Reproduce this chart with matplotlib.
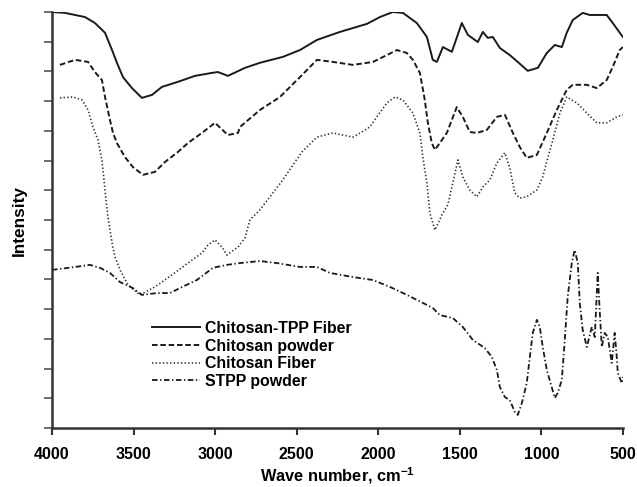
import matplotlib
matplotlib.use("Agg")
import matplotlib.pyplot as plt

# ---------------- data ----------------
tpp_fiber_wn = [4000, 3920, 3798, 3737, 3675, 3632, 3602, 3565, 3510, 3449, 3387, 3326, 3228, 3124,
                3020, 2983, 2922, 2817, 2726, 2585, 2480, 2376, 2235, 2070, 1990, 1911, 1849, 1764,
                1702, 1666, 1641, 1604, 1549, 1488, 1451, 1390, 1359, 1329, 1298, 1255, 1194, 1145,
                1084, 1022, 967, 918, 875, 845, 808, 747, 704, 600, 563, 501]
tpp_fiber_y = [14.00, 13.97, 13.83, 13.63, 13.30, 12.72, 12.29, 11.81, 11.44, 11.11, 11.21, 11.48,
               11.65, 11.85, 11.95, 11.98, 11.85, 12.12, 12.29, 12.49, 12.72, 13.06, 13.33, 13.60,
               13.83, 14.00, 13.97, 13.63, 13.16, 12.39, 12.32, 12.82, 12.66, 13.63, 13.23, 12.99,
               13.33, 13.13, 13.16, 12.79, 12.55, 12.32, 12.02, 12.12, 12.62, 12.89, 12.82, 13.30,
               13.73, 13.97, 13.90, 13.90, 13.63, 13.16]

powder_wn = [3951, 3859, 3779, 3737, 3694, 3675, 3645, 3626, 3602, 3553, 3504, 3442, 3369, 3308,
             3228, 3167, 3081, 3001, 2922, 2860, 2848, 2726, 2603, 2480, 2376, 2278, 2156, 2033,
             1947, 1886, 1825, 1788, 1745, 1715, 1696, 1672, 1653, 1623, 1580, 1519, 1482, 1439,
             1396, 1335, 1273, 1224, 1175, 1133, 1090, 1028, 967, 906, 845, 808, 722, 661, 600,
             563, 520, 501]
powder_y = [12.22, 12.39, 12.32, 11.98, 11.71, 11.14, 10.37, 9.93, 9.59, 9.12, 8.78, 8.52, 8.62,
            8.95, 9.29, 9.59, 9.93, 10.27, 9.86, 9.93, 10.13, 10.70, 11.14, 11.81, 12.39, 12.32,
            12.22, 12.32, 12.55, 12.72, 12.62, 12.39, 11.95, 11.04, 10.27, 9.59, 9.36, 9.59, 9.93,
            10.80, 10.47, 9.96, 9.93, 10.03, 10.47, 10.54, 9.93, 9.46, 9.09, 9.19, 9.93, 10.70,
            11.38, 11.55, 11.55, 11.44, 11.71, 12.15, 12.72, 12.82]

fiber_wn = [3951, 3871, 3816, 3779, 3749, 3718, 3694, 3675, 3657, 3632, 3614, 3583, 3534, 3461,
            3369, 3265, 3167, 3081, 3044, 3001, 2958, 2928, 2860, 2817, 2787, 2726, 2646, 2585,
            2523, 2468, 2376, 2278, 2156, 2101, 2052, 2009, 1947, 1898, 1849, 1788, 1745, 1727,
            1702, 1684, 1653, 1610, 1574, 1543, 1512, 1482, 1439, 1396, 1359, 1316, 1273, 1224,
            1194, 1163, 1133, 1090, 1028, 992, 961, 930, 887, 845, 783, 722, 661, 600, 538, 501]
fiber_y = [11.11, 11.14, 11.04, 10.70, 10.13, 9.69, 9.02, 8.01, 7.10, 6.23, 5.76, 5.32, 4.81, 4.48,
           4.75, 5.15, 5.55, 5.89, 6.16, 6.33, 6.09, 5.82, 6.09, 6.40, 7.00, 7.34, 7.91, 8.35,
           8.85, 9.29, 9.79, 9.93, 9.79, 9.96, 10.13, 10.47, 10.94, 11.14, 11.04, 10.60, 9.93,
           9.12, 8.25, 7.24, 6.66, 7.17, 7.51, 8.25, 9.02, 8.45, 8.01, 7.78, 8.11, 8.35, 8.92,
           9.26, 8.75, 7.91, 7.74, 7.78, 8.01, 8.45, 9.09, 9.69, 10.60, 11.14, 10.94, 10.60,
           10.27, 10.27, 10.47, 10.54]

stpp_wn = [4000, 3859, 3767, 3706, 3645, 3583, 3504, 3449, 3357, 3277, 3216, 3112, 3014, 2928,
           2848, 2726, 2621, 2480, 2376, 2297, 2156, 2033, 1929, 1825, 1727, 1666, 1623, 1543,
           1482, 1420, 1347, 1304, 1273, 1255, 1224, 1194, 1163, 1145, 1120, 1090, 1071, 1053,
           1028, 1010, 992, 967, 937, 918, 900, 875, 857, 839, 814, 796, 777, 765, 747, 722, 691,
           673, 655, 642, 630, 612, 593, 569, 551, 538, 532, 507, 501]
stpp_y = [5.32, 5.42, 5.49, 5.39, 5.22, 4.91, 4.71, 4.48, 4.54, 4.54, 4.71, 4.98, 5.39, 5.49, 5.55,
          5.62, 5.55, 5.42, 5.42, 5.22, 5.08, 4.98, 4.75, 4.48, 4.21, 4.04, 3.80, 3.70, 3.40,
          2.96, 2.69, 2.39, 1.95, 1.38, 1.04, 0.94, 0.54, 0.44, 0.84, 1.51, 2.39, 3.20, 3.64,
          3.40, 2.73, 1.95, 1.38, 1.01, 1.18, 1.62, 2.96, 4.41, 5.55, 5.99, 5.55, 4.21, 3.30,
          2.73, 3.40, 3.06, 5.22, 3.87, 2.73, 3.20, 3.06, 2.19, 3.20, 2.39, 1.85, 1.51, 1.72]

series_labels = ["Chitosan-TPP Fiber", "Chitosan powder", "Chitosan Fiber", "STPP powder"]
x_ticks = [4000, 3500, 3000, 2500, 2000, 1500, 1000, 500]
x_label = "Wave number, cm$^{\\mathbf{-1}}$"
y_label = "Intensity"

# ---------------- style ----------------
fam = ["Liberation Sans", "DejaVu Sans"]
plt.rcParams["font.family"] = fam
plt.rcParams["font.weight"] = "bold"
plt.rcParams["mathtext.fontset"] = "custom"
plt.rcParams["mathtext.bf"] = "Liberation Sans:bold"
plt.rcParams["mathtext.rm"] = "Liberation Sans:bold"
plt.rcParams["lines.scale_dashes"] = False

tick_fs = 11.5
leg_fs = 11.4
lab_fs = 11.8
ylab_fs = 12.4

fig = plt.figure(figsize=(6.37, 4.87), dpi=100)
ax = fig.add_axes([52 / 637, 1 - 428 / 487, (623 - 52) / 637, (428 - 12) / 487])

lc = "#1a1a1a"
ax.plot(tpp_fiber_wn, tpp_fiber_y, color=lc, lw=1.4, ls="-", label=series_labels[0])
ax.plot(powder_wn, powder_y, color=lc, lw=1.4, ls=(0, (4.0, 2.0)), label=series_labels[1])
ax.plot(fiber_wn, fiber_y, color="#333333", lw=1.2, ls=(0, (1.0, 1.6)), label=series_labels[2])
ax.plot(stpp_wn, stpp_y, color=lc, lw=1.3, ls=(0, (4.0, 1.8, 1.0, 1.8)), label=series_labels[3])

ax.set_xlim(4000, 500)
ax.set_ylim(0, 14)
ax.set_xticks(x_ticks)
ax.set_xticklabels([str(t) for t in x_ticks], fontsize=tick_fs, fontweight="bold")
ax.set_yticks(range(0, 15))
ax.set_yticklabels([])

for s in ["top", "right"]:
    ax.spines[s].set_visible(False)
for s in ["left", "bottom"]:
    ax.spines[s].set_color("#333333")
    ax.spines[s].set_linewidth(1.8)

ax.tick_params(axis="x", direction="out", length=5, width=1.5, color="#333333", pad=8.5)
ax.tick_params(axis="y", direction="out", length=6, width=1.2, color="#555555")

ax.set_xlabel(x_label, fontsize=lab_fs, fontweight="bold")
ax.xaxis.set_label_coords(0.5, -(476 - 428) / 416, transform=ax.transAxes)
ax.xaxis.label.set_va("center")
ax.set_ylabel(y_label, fontsize=ylab_fs, fontweight="bold")
ax.yaxis.set_label_coords((19 - 52) / 571, (428 - 221) / 416, transform=ax.transAxes)
ax.yaxis.label.set_va("center")

leg = ax.legend(loc="upper left", bbox_to_anchor=(152 / 637, 1 - 321 / 487),
                bbox_transform=fig.transFigure, frameon=False, borderpad=0, borderaxespad=0,
                handlelength=3.0, handletextpad=0.32, labelspacing=0.16,
                prop={"size": leg_fs, "weight": "bold"})

fig.savefig("out.png", dpi=100)
